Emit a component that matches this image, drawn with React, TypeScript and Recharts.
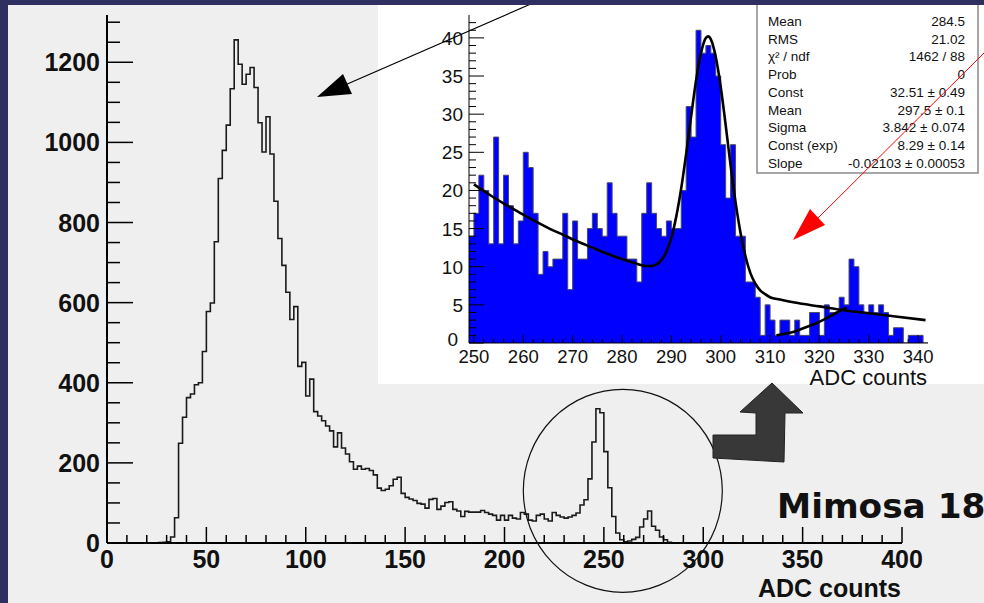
import React from 'react';
import { ComposedChart, Line, Area, XAxis, YAxis } from 'recharts';

const FONT = '"Liberation Sans", Arial, Helvetica, sans-serif';
const NAVY = '#2f2f62';
const PANEL = '#efefef';

// ---- main spectrum: 2 ADC wide bins, lower edges 0, 2, 4 ... 398 ----
const mainBinWidth = 2;
const mainCounts = [
  // 0 - 48
  0, 0, 0, 0, 0, 0, 0, 0, 0, 0, 0, 0, 0, 1, 2, 3, 15, 63, 249, 314, 363, 372, 395, 400, 478,
  // 50 - 98
  578, 599, 752, 910, 980, 1043, 1134, 1256, 1195, 1145, 1170, 1187, 1137, 1049, 976, 1064, 971, 853, 760, 693, 626, 558, 590, 441, 451,
  // 100 - 148
  367, 409, 328, 317, 305, 292, 280, 240, 275, 237, 222, 203, 184, 192, 184, 186, 181, 170, 137, 131, 134, 143, 159, 164, 124,
  // 150 - 198
  114, 110, 106, 99, 97, 87, 109, 111, 84, 92, 101, 103, 84, 80, 66, 79, 77, 77, 77, 81, 76, 72, 69, 57, 69,
  // 200 - 248
  57, 69, 62, 60, 76, 72, 57, 55, 69, 72, 60, 55, 76, 69, 65, 62, 65, 69, 75, 95, 108, 160, 252, 335, 325,
  // 250 - 298
  228, 138, 66, 25, 8, 3, 5, 9, 14, 40, 60, 80, 42, 32, 15, 8, 2, 0, 0, 0, 0, 0, 0, 0, 0,
  // 300 - 398
  0, 0, 0, 0, 0, 0, 0, 0, 0, 0, 0, 0, 0, 0, 0, 0, 0, 0, 0, 0, 0, 0, 0, 0, 0,
  0, 0, 0, 0, 0, 0, 0, 0, 0, 0, 0, 0, 0, 0, 0, 0, 0, 0, 0, 0, 0, 0, 0, 0, 0,
];
const mainXTicks = [0, 10, 20, 30, 40, 50, 60, 70, 80, 90, 100, 110, 120, 130, 140, 150, 160, 170, 180, 190, 200,
  210, 220, 230, 240, 250, 260, 270, 280, 290, 300, 310, 320, 330, 340, 350, 360, 370, 380, 390, 400];
const mainYTicks = [0, 50, 100, 150, 200, 250, 300, 350, 400, 450, 500, 550, 600, 650, 700, 750, 800, 850, 900,
  950, 1000, 1050, 1100, 1150, 1200, 1250, 1300];

// ---- zoomed spectrum: 1 ADC wide bins, lower edges 249 ... 341 ----
const insetFirstBin = 249;
const insetCounts = [
  14, 17, 22, 20, 13, 27, 13, 22, 18, 13,
  16, 25, 23, 17, 9, 12, 10, 11, 11, 17,
  7, 16, 11, 11, 15, 17, 15, 14, 21, 17,
  14, 14, 11, 11, 8, 17, 21, 17, 15, 14,
  16, 15, 15, 20, 31, 27, 41, 38, 39, 38,
  35, 26, 19, 26, 14, 14, 8, 8, 6, 1,
  5, 3, 1, 3, 3, 1, 3, 1, 1, 4,
  4, 1, 5, 4, 4, 6, 5, 11, 10, 5,
  4, 5, 4, 5, 4, 1, 2, 2, 0, 1,
  1, 1, 0,
];
const insetXTicks = [250, 252, 254, 256, 258, 260, 262, 264, 266, 268, 270, 272, 274, 276, 278, 280, 282, 284, 286,
  288, 290, 292, 294, 296, 298, 300, 302, 304, 306, 308, 310, 312, 314, 316, 318, 320, 322, 324, 326, 328, 330,
  332, 334, 336, 338, 340];
const insetYTicks = [0, 1, 2, 3, 4, 5, 6, 7, 8, 9, 10, 11, 12, 13, 14, 15, 16, 17, 18, 19, 20, 21, 22, 23, 24, 25,
  26, 27, 28, 29, 30, 31, 32, 33, 34, 35, 36, 37, 38, 39, 40, 41, 42];

// gaus + expo fit
const fitAdc = [250, 253, 256, 259, 262, 265, 268, 271, 274, 277, 280, 282, 284, 285, 286, 287, 288, 289, 290, 291,
  292, 293, 294, 295, 296, 297, 297.5, 298, 299, 300, 301, 302, 303, 304, 305, 306, 307, 308, 309, 310, 312, 315,
  320, 325, 330, 335, 341.5];
const fitCounts = [20.8, 19.5, 18.3, 17.2, 16.1, 15.1, 14.2, 13.3, 12.5, 11.7, 11.0, 10.6, 10.2, 10.1, 10.1, 10.3,
  10.9, 12.0, 13.8, 16.6, 20.3, 24.8, 29.7, 34.4, 38.0, 40.0, 40.2, 39.8, 37.5, 33.6, 28.6, 23.3, 18.5, 14.5, 11.4,
  9.2, 7.8, 6.9, 6.4, 6.0, 5.7, 5.3, 4.8, 4.3, 3.9, 3.5, 3.0];
// second small curve under the 326 bump
const bumpAdc = [311.3, 313, 315, 317, 319, 321, 323, 325, 325.5];
const bumpCounts = [1.0, 1.2, 1.5, 2.0, 2.5, 3.1, 3.8, 4.5, 4.6];

const statsRows = [
  ['Mean', '284.5'],
  ['RMS', '21.02'],
  ['χ² / ndf', '1462 / 88'],
  ['Prob', '0'],
  ['Const', '32.51 ± 0.49'],
  ['Mean', '297.5 ± 0.1'],
  ['Sigma', '3.842 ± 0.074'],
  ['Const (exp)', '8.29 ± 0.14'],
  ['Slope', '-0.02103 ± 0.00053'],
];

const mainData = mainCounts
  .map((c, i) => ({ adc: i * mainBinWidth, counts: c }))
  .concat([{ adc: mainCounts.length * mainBinWidth, counts: 0 }]);
const insetData = insetCounts
  .map((c, i) => ({ adc: insetFirstBin + i, counts: c }))
  .concat([{ adc: insetFirstBin + insetCounts.length, counts: 0 }]);
const fitData = fitAdc.map((a, i) => ({ adc: a, fit: fitCounts[i] }));
const bumpData = bumpAdc.map((a, i) => ({ adc: a, fit: bumpCounts[i] }));

// ROOT style ticks point into the frame
const MainXTick = ({ x, y, payload }: any) => {
  const major = payload.value % 50 === 0;
  return (
    <g>
      <line x1={x} x2={x} y1={y} y2={y - (major ? 16 : 8)} stroke="#000" strokeWidth={1.5} />
      {major && (
        <text x={x} y={y + 25} textAnchor="middle" fontSize={25} fontWeight="bold" fontFamily={FONT} fill="#111">
          {payload.value}
        </text>
      )}
    </g>
  );
};

const MainYTick = ({ x, y, payload }: any) => {
  const major = payload.value % 200 === 0;
  return (
    <g>
      <line x1={x} x2={x + (major ? 26 : 13)} y1={y} y2={y} stroke="#000" strokeWidth={1.5} />
      {major && (
        <text x={x - 7} y={y + 9} textAnchor="end" fontSize={25} fontWeight="bold" fontFamily={FONT} fill="#111">
          {payload.value}
        </text>
      )}
    </g>
  );
};

const InsetXTick = ({ x, y, payload }: any) => {
  const major = payload.value % 10 === 0;
  return (
    <g>
      <line x1={x} x2={x} y1={y} y2={y - (major ? 8 : 4)} stroke="#000" strokeWidth={1} />
      {major && (
        <text x={x} y={y + 20} textAnchor="middle" fontSize={18.5} fontFamily={FONT} fill="#111">
          {payload.value}
        </text>
      )}
    </g>
  );
};

const InsetYTick = ({ x, y, payload }: any) => {
  const major = payload.value % 5 === 0;
  // the zero label is nudged up and left so it clears the "250" under it
  const isZero = payload.value === 0;
  return (
    <g>
      <line x1={x} x2={x + (major ? 15 : 7)} y1={y} y2={y} stroke="#000" strokeWidth={1} />
      {major && (
        <text x={x - (isZero ? 11 : 6)} y={y + (isZero ? 3 : 7)} textAnchor="end" fontSize={19} fontFamily={FONT} fill="#111">
          {payload.value}
        </text>
      )}
    </g>
  );
};

const MainSpectrum = () => (
  <ComposedChart width={984} height={603} data={mainData} margin={{ top: 15, right: 82, bottom: 30, left: 47 }}>
    <XAxis
      xAxisId="b"
      dataKey="adc"
      type="number"
      domain={[0, 400]}
      allowDataOverflow
      ticks={mainXTicks}
      interval={0}
      height={30}
      tickLine={false}
      tickSize={0}
      tickMargin={0}
      axisLine={{ stroke: '#000', strokeWidth: 2 }}
      tick={MainXTick}
    />
    <XAxis xAxisId="t" orientation="top" type="number" domain={[0, 400]} height={0} tick={false} tickLine={false}
      axisLine={{ stroke: '#000', strokeWidth: 2 }} />
    <YAxis
      yAxisId="l"
      type="number"
      domain={[0, 1318]}
      allowDataOverflow
      ticks={mainYTicks}
      interval={0}
      width={60}
      tickLine={false}
      tickSize={0}
      tickMargin={0}
      axisLine={{ stroke: '#000', strokeWidth: 2 }}
      tick={MainYTick}
    />
    <YAxis yAxisId="r" orientation="right" type="number" domain={[0, 1318]} width={0} tick={false} tickLine={false}
      axisLine={{ stroke: '#333', strokeWidth: 1.5 }} />
    <Line
      xAxisId="b"
      yAxisId="l"
      type="stepAfter"
      dataKey="counts"
      stroke="#1a1a1a"
      strokeWidth={1.6}
      dot={false}
      activeDot={false}
      isAnimationActive={false}
    />
  </ComposedChart>
);

const ZoomSpectrum = () => (
  <ComposedChart width={606} height={384} data={insetData} margin={{ top: 15, right: 56, bottom: 11, left: 41 }}>
    <XAxis
      xAxisId="b"
      dataKey="adc"
      type="number"
      domain={[249, 342]}
      allowDataOverflow
      ticks={insetXTicks}
      interval={0}
      height={30}
      tickLine={false}
      tickSize={0}
      tickMargin={0}
      axisLine={{ stroke: '#000', strokeWidth: 1 }}
      tick={InsetXTick}
    />
    <XAxis xAxisId="t" orientation="top" type="number" domain={[249, 342]} height={0} tick={false} tickLine={false}
      axisLine={{ stroke: '#222', strokeWidth: 1 }} />
    <YAxis
      yAxisId="l"
      type="number"
      domain={[0, 43]}
      allowDataOverflow
      ticks={insetYTicks}
      interval={0}
      width={50}
      tickLine={false}
      tickSize={0}
      tickMargin={0}
      axisLine={{ stroke: '#000', strokeWidth: 1 }}
      tick={InsetYTick}
    />
    <YAxis yAxisId="r" orientation="right" type="number" domain={[0, 43]} width={0} tick={false} tickLine={false}
      axisLine={{ stroke: '#8a8a8a', strokeWidth: 1.5 }} />
    <Area
      xAxisId="b"
      yAxisId="l"
      type="stepAfter"
      dataKey="counts"
      fill="#0000ff"
      fillOpacity={1}
      stroke="#4a4a6a"
      strokeWidth={1}
      dot={false}
      activeDot={false}
      isAnimationActive={false}
    />
    <Line xAxisId="b" yAxisId="l" data={fitData} dataKey="fit" type="monotone" stroke="#000" strokeWidth={2.6}
      dot={false} activeDot={false} isAnimationActive={false} />
    <Line xAxisId="b" yAxisId="l" data={bumpData} dataKey="fit" type="monotone" stroke="#000" strokeWidth={2.6}
      dot={false} activeDot={false} isAnimationActive={false} />
  </ComposedChart>
);

export default function App() {
  return (
    <div style={{ position: 'absolute', left: 0, top: 0, width: 984, height: 603, overflow: 'hidden', background: NAVY }}>
      <div style={{ position: 'absolute', left: 8, top: 5, width: 976, height: 598, background: PANEL }} />
      <div style={{ position: 'absolute', left: 0, top: 0 }}>
        <MainSpectrum />
      </div>
      <div style={{ position: 'absolute', left: 378, top: 0, width: 606, height: 384, background: '#fff' }}>
        <ZoomSpectrum />
      </div>
      <svg width={984} height={603} style={{ position: 'absolute', left: 0, top: 0, overflow: 'visible' }}>
        {/* axis titles */}
        <text x={901} y={597} textAnchor="end" fontSize={25} fontWeight="bold" fontFamily={FONT} fill="#111">
          ADC counts
        </text>
        <text x={927} y={385} textAnchor="end" fontSize={22} fontFamily={FONT} fill="#111">
          ADC counts
        </text>

        {/* circle around the peak */}
        <ellipse cx={622.8} cy={490.8} rx={99.5} ry={101.5} fill="none" stroke="#111" strokeWidth={1.2} />

        {/* bent block arrow */}
        <polygon
          points="713,435 756,435 756,413 740,412 772,383 803,413 785,413 784,462 713,458"
          fill="#383838"
          stroke="#222"
          strokeWidth={1}
        />

        <text x={777} y={518} fontSize={34.3} fontWeight="bold" fontFamily='"DejaVu Sans", Verdana, sans-serif' fill="#111">
          Mimosa 18
        </text>

        {/* black arrow to the main peak */}
        <line x1={540} y1={0} x2={345} y2={85} stroke="#000" strokeWidth={1.2} />
        <polygon points="317,97 343,74 352,94" fill="#000" />

        {/* stats box */}
        <rect x={757} y={-2} width={221} height={175} fill="#fff" stroke="#8a8a8a" strokeWidth={1.5} />
        {statsRows.map((r, i) => (
          <g key={i}>
            <text x={768} y={26 + i * 17.7} fontSize={13.5} fontFamily={FONT} fill="#111">
              {r[0]}
            </text>
            <text x={965} y={26 + i * 17.7} textAnchor="end" fontSize={13.5} fontFamily={FONT} fill="#111">
              {r[1]}
            </text>
          </g>
        ))}

        {/* red arrow */}
        <line x1={984} y1={53} x2={815} y2={221} stroke="#ff0000" strokeWidth={1} />
        <polygon points="793,240 810,209 825,225" fill="#ff0000" />

        {/* slide border */}
        <rect x={0} y={0} width={984} height={5} fill={NAVY} />
        <rect x={0} y={0} width={8} height={603} fill={NAVY} />
      </svg>
    </div>
  );
}
